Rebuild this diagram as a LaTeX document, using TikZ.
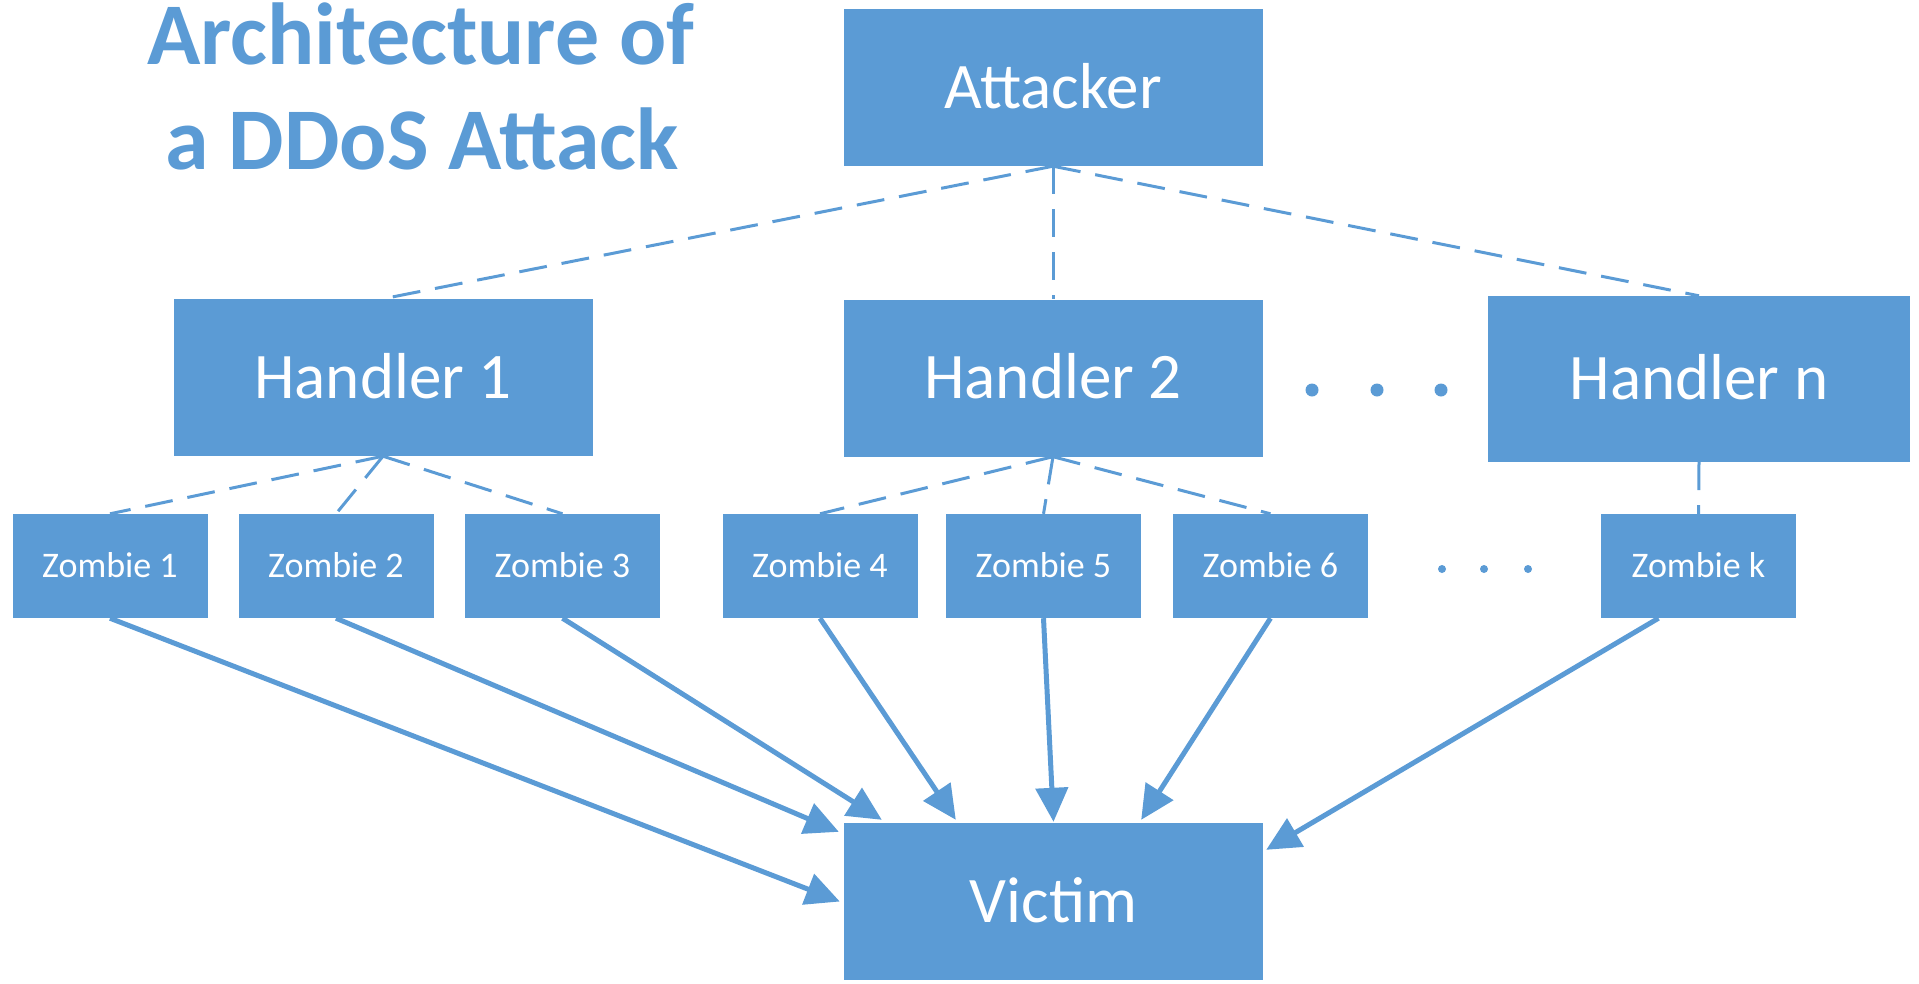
\documentclass[tikz,border=0pt]{standalone}
\usepackage{fontspec}
\setmainfont{Carlito}
\usetikzlibrary{arrows.meta,calc}
\definecolor{boxblue}{HTML}{5B9BD5}
\begin{document}
\begin{tikzpicture}[x=1pt,y=-1pt,
  box/.style={rectangle,fill=boxblue,text=white,inner sep=0pt,font=\fontsize{65}{78}\selectfont,text height=41pt,text depth=0pt},
  bigbox/.style={box,minimum width=419pt,minimum height=157pt},
  zbox/.style={box,minimum width=195pt,minimum height=104pt,font=\fontsize{36}{43}\selectfont,text height=23pt},
  link/.style={draw=boxblue,line width=3pt,dash pattern=on 28pt off 15pt},
  attack/.style={draw=boxblue,line width=5pt,-{Triangle[length=34pt,width=32pt]}},
  bigdot/.style={circle,fill=boxblue,inner sep=0pt,minimum size=13pt},
  smalldot/.style={circle,fill=boxblue,inner sep=0pt,minimum size=8pt},
  titletext/.style={font=\fontsize{88}{106}\selectfont\bfseries,text=boxblue,anchor=base,inner sep=0pt}]
\useasboundingbox (0,0) rectangle (1919,983);
% title
\node[titletext] (title1) at (421,64) {Architecture of};
\node[titletext] (title2) at (422,169) {a DDoS Attack};
% main boxes
\node[bigbox] (att) at (1053,87.5) {Attacker};
\node[bigbox] (h1) at (383,377.5) {Handler 1};
\node[bigbox] (h2) at (1053,378) {Handler 2};
\node[bigbox,minimum width=422pt,minimum height=166pt] (hn) at (1699,379) {Handler n};
\node[bigbox] (vic) at (1053.5,901.5) {Victim};
% zombies
\node[zbox] (z1) at (110,566) {Zombie 1};
\node[zbox] (z2) at (336,566) {Zombie 2};
\node[zbox] (z3) at (562.5,566) {Zombie 3};
\node[zbox] (z4) at (820,566) {Zombie 4};
\node[zbox] (z5) at (1043.5,566) {Zombie 5};
\node[zbox] (z6) at (1270.5,566) {Zombie 6};
\node[zbox] (zk) at (1698.5,566) {Zombie k};
% ellipses
\node[bigdot] (hd1) at (1312,390) {};
\node[bigdot] (hd2) at (1377,390) {};
\node[bigdot] (hd3) at (1441,390) {};
\node[smalldot] (zd1) at (1442,569) {};
\node[smalldot] (zd2) at (1484,569) {};
\node[smalldot] (zd3) at (1528,569) {};
% control links
\draw[link] (att.south) -- (h1.north);
\draw[link] (att.south) -- (h2.north);
\draw[link] (att.south) -- (hn.north);
\draw[link] (h1.south) -- (z1.north);
\draw[link] (h1.south) -- (z2.north);
\draw[link] (h1.south) -- (z3.north);
\draw[link] (h2.south) -- (z4.north);
\draw[link] (h2.south) -- (z5.north);
\draw[link] (h2.south) -- (z6.north);
\draw[link] (hn.south) -- (zk.north);
% attack arrows
\draw[attack] (z1.south) -- ([xshift=-4pt]vic.west);
\draw[attack] (z2.south) -- ([shift={(-5pt,-9pt)}]vic.north west);
\draw[attack] (z3.south) -- ([xshift=38pt,yshift=3pt]vic.north west);
\draw[attack] (z4.south) -- ([xshift=112pt,yshift=3pt]vic.north west);
\draw[attack] (z5.south) -- ([yshift=1pt]vic.north);
\draw[attack] (z6.south) -- ([xshift=-122pt,yshift=3pt]vic.north east);
\draw[attack] ([xshift=-40pt]zk.south) -- ([shift={(3pt,-27pt)}]vic.north east);
\end{tikzpicture}
\end{document}
